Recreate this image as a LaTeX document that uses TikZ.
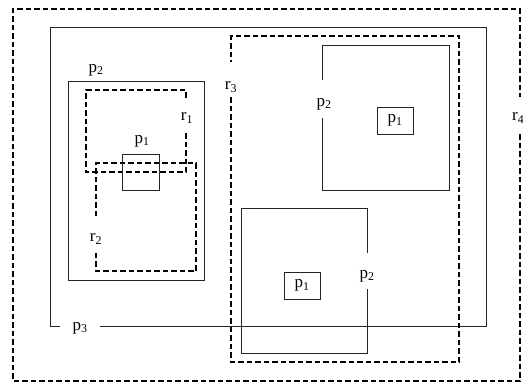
\documentclass[tikz,border=0pt]{standalone}
\usepackage{fontspec}
\setmainfont{Liberation Serif}
\newcommand\plab[2]{#1\textsubscript{#2}}
\begin{document}
\begin{tikzpicture}[x=1pt,y=-1pt,
  solidbox/.style={line width=0.9pt,black!85},
  dashbox/.style={line width=1.8pt,dash pattern=on 5.5pt off 3pt,black},
  lab/.style={inner sep=0pt,font=\fontsize{17}{19}\selectfont}]
\useasboundingbox (0,0) rectangle (523,383);
\fill[white] (0,0) rectangle (523,383);
% outer dashed r4
\draw[dashbox] (520,134) -- (520,381) -- (13,381) -- (13,9) -- (520,9) -- (520,97);
\node[lab,anchor=west] (r4) at (512,118) {\plab{r}{4}};
% p3
\draw[solidbox] (100,326) -- (486,326) -- (486,27) -- (50,27) -- (50,326) -- (60,326);
\node[lab] (p3) at (80,328) {\plab{p}{3}};
% left p2
\draw[solidbox] (68,81) rectangle (204,280);
\node[lab] (p2a) at (96,70) {\plab{p}{2}};
% r1
\draw[dashbox] (186,133) -- (186,172) -- (86,172) -- (86,90) -- (186,90) -- (186,99);
\node[lab] (r1) at (187,118) {\plab{r}{1}};
% r2
\draw[dashbox] (96,216) -- (96,163) -- (196,163) -- (196,271) -- (96,271) -- (96,252);
\node[lab] (r2) at (96,239) {\plab{r}{2}};
% small p1
\draw[solidbox] (122,154) rectangle (159,190);
\node[lab] (p1a) at (142,141) {\plab{p}{1}};
% r3
\draw[dashbox] (231,97) -- (231,362) -- (459,362) -- (459,36) -- (231,36) -- (231,62);
\node[lab] (r3) at (231,87) {\plab{r}{3}};
% upper right p2
\draw[solidbox] (322,80) -- (322,45) -- (449,45) -- (449,190) -- (322,190) -- (322,118);
\node[lab] (p2b) at (324,104) {\plab{p}{2}};
\node[lab,draw,line width=0.9pt,black!85,text=black,minimum width=36pt,minimum height=27pt] (p1b) at (395,120.5) {\plab{p}{1}};
% lower p2
\draw[solidbox] (367,253) -- (367,208) -- (241,208) -- (241,353) -- (367,353) -- (367,289);
\node[lab] (p2c) at (367,276) {\plab{p}{2}};
\node[lab,draw,line width=0.9pt,black!85,text=black,minimum width=36pt,minimum height=27pt] (p1c) at (302,285.5) {\plab{p}{1}};
\end{tikzpicture}
\end{document}
